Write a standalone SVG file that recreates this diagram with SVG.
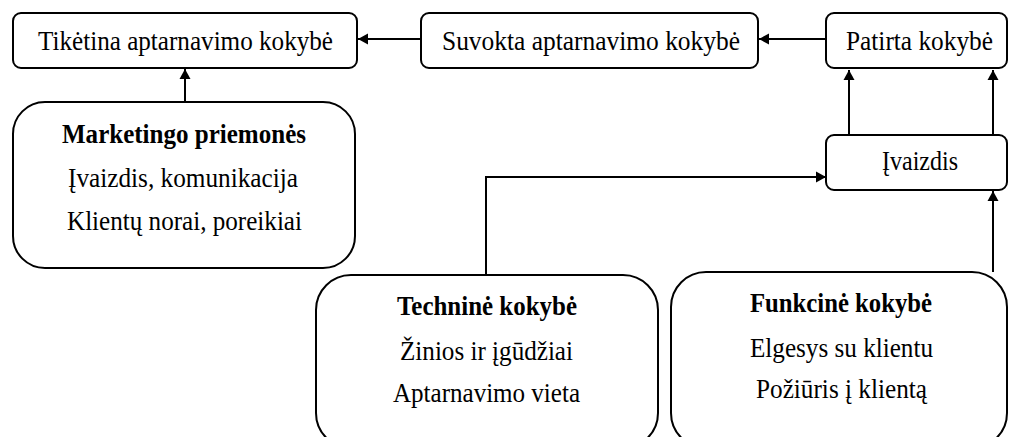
<svg xmlns="http://www.w3.org/2000/svg" width="1011" height="437" viewBox="0 0 1011 437">
<style>
.box{fill:#fff;stroke:#000;stroke-width:2}
.t{font-family:"Liberation Serif","Times New Roman",serif;font-size:28px;fill:#000}
.b{font-weight:bold}
.c{fill:none;stroke:#000;stroke-width:2}
</style>
<defs>
<marker id="ah" markerUnits="userSpaceOnUse" markerWidth="12" markerHeight="12" refX="10" refY="6" orient="auto">
<path d="M0,0.5 L10,6 L0,11.5 z" fill="#000"/>
</marker>
</defs>
<rect width="1011" height="437" fill="#fff"/>
<g id="connectors">
<line class="c" x1="421" y1="39" x2="358" y2="39" marker-end="url(#ah)"/>
<line class="c" x1="826" y1="39" x2="759" y2="39" marker-end="url(#ah)"/>
<line class="c" x1="185" y1="102" x2="185" y2="69" marker-end="url(#ah)"/>
<line class="c" x1="849" y1="135" x2="849" y2="70" marker-end="url(#ah)"/>
<line class="c" x1="993" y1="135" x2="993" y2="70" marker-end="url(#ah)"/>
<polyline class="c" points="486,275 486,177 826,177" marker-end="url(#ah)"/>
<line class="c" x1="993" y1="272" x2="993" y2="191" marker-end="url(#ah)"/>
</g>
<g id="tiketina">
<rect class="box" x="13" y="13" width="344" height="55" rx="8"/>
<text class="t" x="38" y="49.5" textLength="295" lengthAdjust="spacingAndGlyphs">Tikėtina aptarnavimo kokybė</text>
</g>
<g id="suvokta">
<rect class="box" x="421" y="13" width="337" height="55" rx="8"/>
<text class="t" x="442" y="49.5" textLength="298" lengthAdjust="spacingAndGlyphs">Suvokta aptarnavimo kokybė</text>
</g>
<g id="patirta">
<rect class="box" x="826" y="13" width="181" height="55" rx="8"/>
<text class="t" x="846" y="49.5" textLength="147" lengthAdjust="spacingAndGlyphs">Patirta kokybė</text>
</g>
<g id="ivaizdis">
<rect class="box" x="826" y="135" width="181" height="55" rx="8"/>
<text class="t" x="882" y="170" textLength="76" lengthAdjust="spacingAndGlyphs">Įvaizdis</text>
</g>
<g id="marketingo">
<rect class="box" x="13" y="102" width="342" height="166" rx="32"/>
<text class="t b" x="62" y="143" textLength="244" lengthAdjust="spacingAndGlyphs">Marketingo priemonės</text>
<text class="t" x="68" y="186.5" textLength="230" lengthAdjust="spacingAndGlyphs">Įvaizdis, komunikacija</text>
<text class="t" x="67" y="229.5" textLength="235" lengthAdjust="spacingAndGlyphs">Klientų norai, poreikiai</text>
</g>
<g id="technine">
<rect class="box" x="316" y="275" width="342" height="173" rx="35"/>
<text class="t b" x="397" y="315" textLength="180" lengthAdjust="spacingAndGlyphs">Techninė kokybė</text>
<text class="t" x="400" y="360" textLength="173" lengthAdjust="spacingAndGlyphs">Žinios ir įgūdžiai</text>
<text class="t" x="393" y="401.5" textLength="187" lengthAdjust="spacingAndGlyphs">Aptarnavimo vieta</text>
</g>
<g id="funkcine">
<rect class="box" x="671" y="272" width="336" height="176" rx="35"/>
<text class="t b" x="750" y="312" textLength="182" lengthAdjust="spacingAndGlyphs">Funkcinė kokybė</text>
<text class="t" x="750" y="357" textLength="183" lengthAdjust="spacingAndGlyphs">Elgesys su klientu</text>
<text class="t" x="756" y="398" textLength="171" lengthAdjust="spacingAndGlyphs">Požiūris į klientą</text>
</g>
</svg>
